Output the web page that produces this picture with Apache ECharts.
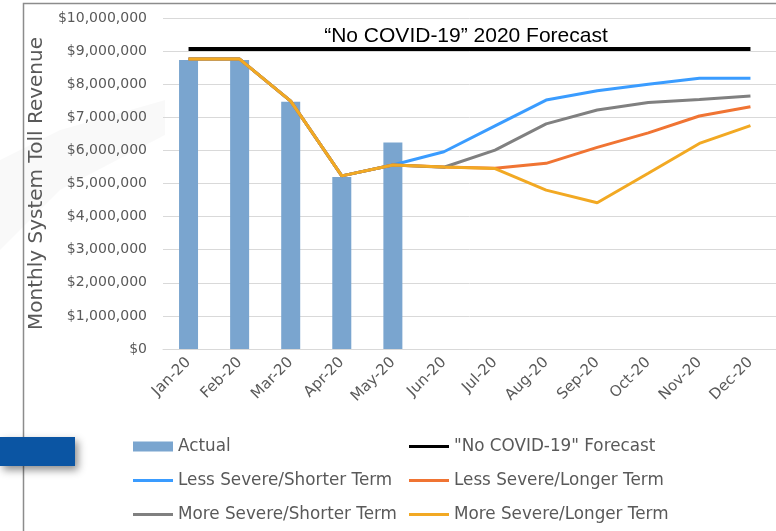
<!DOCTYPE html>
<html>
<head>
<meta charset="utf-8">
<script src="https://cdn.jsdelivr.net/npm/echarts@6/dist/echarts.min.js"></script>
<style>
  html, body { margin: 0; padding: 0; background: #fff; }
  #chart { width: 776px; height: 531px; }
</style>
</head>
<body>
<div id="chart"></div>
<script>
var months = ['Jan-20', 'Feb-20', 'Mar-20', 'Apr-20', 'May-20', 'Jun-20', 'Jul-20', 'Aug-20', 'Sep-20', 'Oct-20', 'Nov-20', 'Dec-20'];
var yTicks = [0, 1000000, 2000000, 3000000, 4000000, 5000000, 6000000, 7000000, 8000000, 9000000, 10000000];

var actual = [8730000, 8730000, 7470000, 5200000, 6240000, '-', '-', '-', '-', '-', '-', '-'];
var noCovid = [9060000, 9060000, 9060000, 9060000, 9060000, 9060000, 9060000, 9060000, 9060000, 9060000, 9060000, 9060000];
var lessShort = [8760000, 8760000, 7490000, 5230000, 5560000, 5960000, 6740000, 7520000, 7800000, 8000000, 8180000, 8180000];
var lessLong = [8760000, 8760000, 7490000, 5230000, 5560000, 5500000, 5460000, 5610000, 6090000, 6530000, 7040000, 7320000];
var moreShort = [8760000, 8760000, 7490000, 5230000, 5560000, 5490000, 6010000, 6800000, 7220000, 7450000, 7540000, 7640000];
var moreLong = [8760000, 8760000, 7490000, 5230000, 5560000, 5500000, 5450000, 4800000, 4420000, 5310000, 6210000, 6750000];

var txtGray = '#595959';
var font = 'DejaVu Sans';

function money(v) {
	return '$' + String(v).replace(/\B(?=(\d{3})+(?!\d))/g, ',');
}

function lineSeries(name, data, color, width, z) {
	return {
		name: name,
		type: 'line',
		data: data,
		symbol: 'none',
		z: z,
		lineStyle: { color: color, width: width },
		itemStyle: { color: color }
	};
}

// legend column helper, the ref legend is 2 columns x 3 rows
function legendCol(left, top, names, iconH) {
	return {
		left: left,
		top: top,
		orient: 'vertical',
		padding: 0,
		icon: 'rect',
		itemWidth: 40,
		itemHeight: iconH,
		itemGap: 17,
		data: names,
		textStyle: { fontFamily: font, fontSize: 16.8, lineHeight: 17, color: txtGray }
	};
}

var chart = echarts.init(document.getElementById('chart'));
chart.setOption({
	animation: false,
	title: {
		text: '\u201cNo COVID-19\u201d 2020 Forecast',
		left: 461,
		top: 21,
		textAlign: 'center',
		textStyle: { fontFamily: 'Liberation Sans', fontSize: 21, fontWeight: 'normal', color: '#000' }
	},
	grid: { left: 163, right: -9, top: 18, bottom: 182 },
	legend: [
		legendCol(133, 438, ['Actual'], 10),
		legendCol(133, 472, ['Less Severe/Shorter Term', 'More Severe/Shorter Term'], 3),
		legendCol(409, 438, ['"No COVID-19" Forecast', 'Less Severe/Longer Term', 'More Severe/Longer Term'], 3)
	],
	xAxis: {
		type: 'category',
		data: months,
		axisLine: { lineStyle: { color: '#d9d9d9' } },
		axisTick: { show: false },
		axisLabel: { rotate: 45, margin: 11, fontFamily: font, fontSize: 15, color: txtGray }
	},
	yAxis: {
		type: 'value',
		min: yTicks[0],
		max: yTicks[yTicks.length - 1],
		interval: 1000000,
		name: 'Monthly System Toll Revenue',
		nameLocation: 'middle',
		nameGap: 114,
		nameTextStyle: { fontFamily: font, fontSize: 20, color: txtGray },
		axisLine: { show: false },
		axisTick: { show: false },
		splitLine: { lineStyle: { color: '#d9d9d9', width: 1 } },
		axisLabel: { margin: 16, fontFamily: font, fontSize: 14, color: txtGray, formatter: money }
	},
	series: [
		{
			name: 'Actual',
			type: 'bar',
			data: actual,
			barWidth: 19,
			itemStyle: { color: '#7aa5cf' }
		},
		lineSeries('"No COVID-19" Forecast', noCovid, '#000000', 4, 3),
		lineSeries('Less Severe/Shorter Term', lessShort, '#3a9cff', 3, 4),
		lineSeries('Less Severe/Longer Term', lessLong, '#f07433', 3, 5),
		lineSeries('More Severe/Shorter Term', moreShort, '#808080', 3, 6),
		lineSeries('More Severe/Longer Term', moreLong, '#f2a923', 3, 7)
	],
	graphic: [{
		// faint grey swoosh from the slide background
		type: 'polygon',
		silent: true,
		z: -10,
		shape: { points: [[0, 160], [60, 130], [165, 100], [165, 135], [60, 190], [0, 250]] },
		style: { fill: 'rgba(0,0,0,0.025)', shadowBlur: 30, shadowColor: 'rgba(0,0,0,0.05)' }
	}, {
		type: 'rect',
		silent: true,
		shape: { x: 23.5, y: 3.5, width: 800, height: 600 },
		style: { fill: 'none', stroke: '#8c8c8c', lineWidth: 1.5 }
	}, {
		type: 'rect',
		silent: true,
		z: 10,
		shape: { x: 0, y: 437, width: 75, height: 29 },
		style: { fill: '#0b55a3', shadowBlur: 8, shadowOffsetX: 3, shadowOffsetY: 4, shadowColor: 'rgba(0,0,0,0.45)' }
	}]
});
</script>
</body>
</html>
